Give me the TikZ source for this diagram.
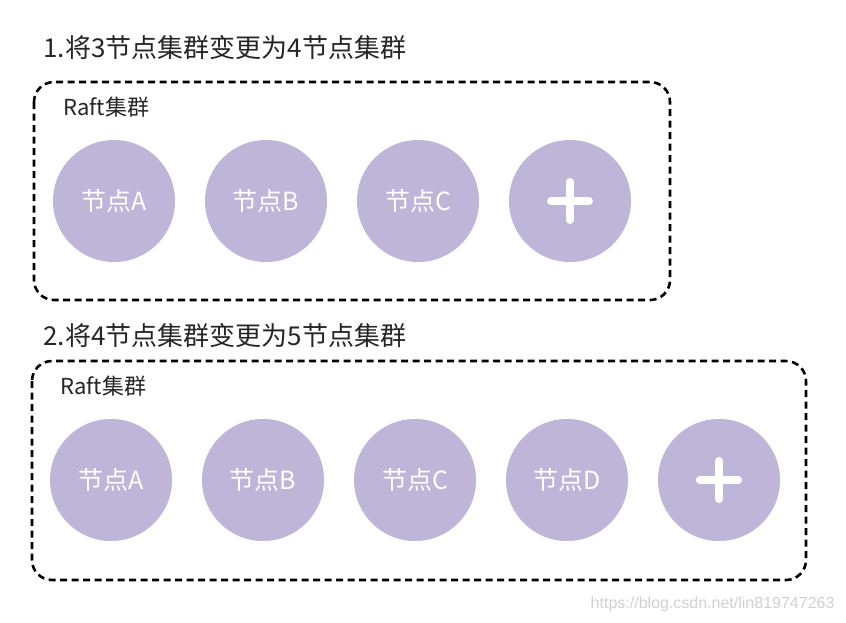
\documentclass[tikz,border=0pt]{standalone}
\usepackage{fontspec}
\setmainfont{Noto Sans CJK SC}
\setsansfont{Liberation Sans}
\begin{document}
\begin{tikzpicture}[x=1pt,y=-1pt,
  nodecirc/.style={circle,fill=nodepurple,minimum size=122pt,inner sep=0pt,text=white,font=\fontsize{25}{28}\selectfont},
  clusterbox/.style={draw=black,line width=2.6pt,dash pattern=on 7pt off 4.5pt,rounded corners=20pt},
  titletext/.style={anchor=west,font=\fontsize{26}{30}\selectfont,text=black!85},
  rafttext/.style={anchor=west,font=\fontsize{22}{26}\selectfont,text=black!85},
  plusline/.style={white,line width=8pt,line cap=round}]
\definecolor{nodepurple}{RGB}{190,181,217}
\useasboundingbox (0,0) rectangle (846,622);
\fill[white] (0,0) rectangle (846,622);
% section 1
\node[titletext] (t1) at (40,48) {1.将3节点集群变更为4节点集群};
\draw[clusterbox] (34,82) rectangle (670,300);
\node[rafttext] (r1) at (60,107) {Raft集群};
\node[nodecirc] (a1) at (114,201) {节点A};
\node[nodecirc] (b1) at (266,201) {节点B};
\node[nodecirc] (c1) at (418,201) {节点C};
\node[nodecirc] (p1) at (570,201) {};
\draw[plusline] ([xshift=-19pt]p1.center) -- ([xshift=19pt]p1.center);
\draw[plusline] ([yshift=-19pt]p1.center) -- ([yshift=19pt]p1.center);
% section 2
\node[titletext] (t2) at (40,336) {2.将4节点集群变更为5节点集群};
\draw[clusterbox] (32,361) rectangle (806,580);
\node[rafttext] (r2) at (57,386) {Raft集群};
\node[nodecirc] (a2) at (111,480) {节点A};
\node[nodecirc] (b2) at (263,480) {节点B};
\node[nodecirc] (c2) at (415,480) {节点C};
\node[nodecirc] (d2) at (567,480) {节点D};
\node[nodecirc] (p2) at (719,480) {};
\draw[plusline] ([xshift=-19pt]p2.center) -- ([xshift=19pt]p2.center);
\draw[plusline] ([yshift=-19pt]p2.center) -- ([yshift=19pt]p2.center);
% watermark
\node[anchor=east,font=\sffamily\fontsize{16}{18}\selectfont,text=black!18] (wm) at (838,604) {https://blog.csdn.net/lin819747263};
\end{tikzpicture}
\end{document}
